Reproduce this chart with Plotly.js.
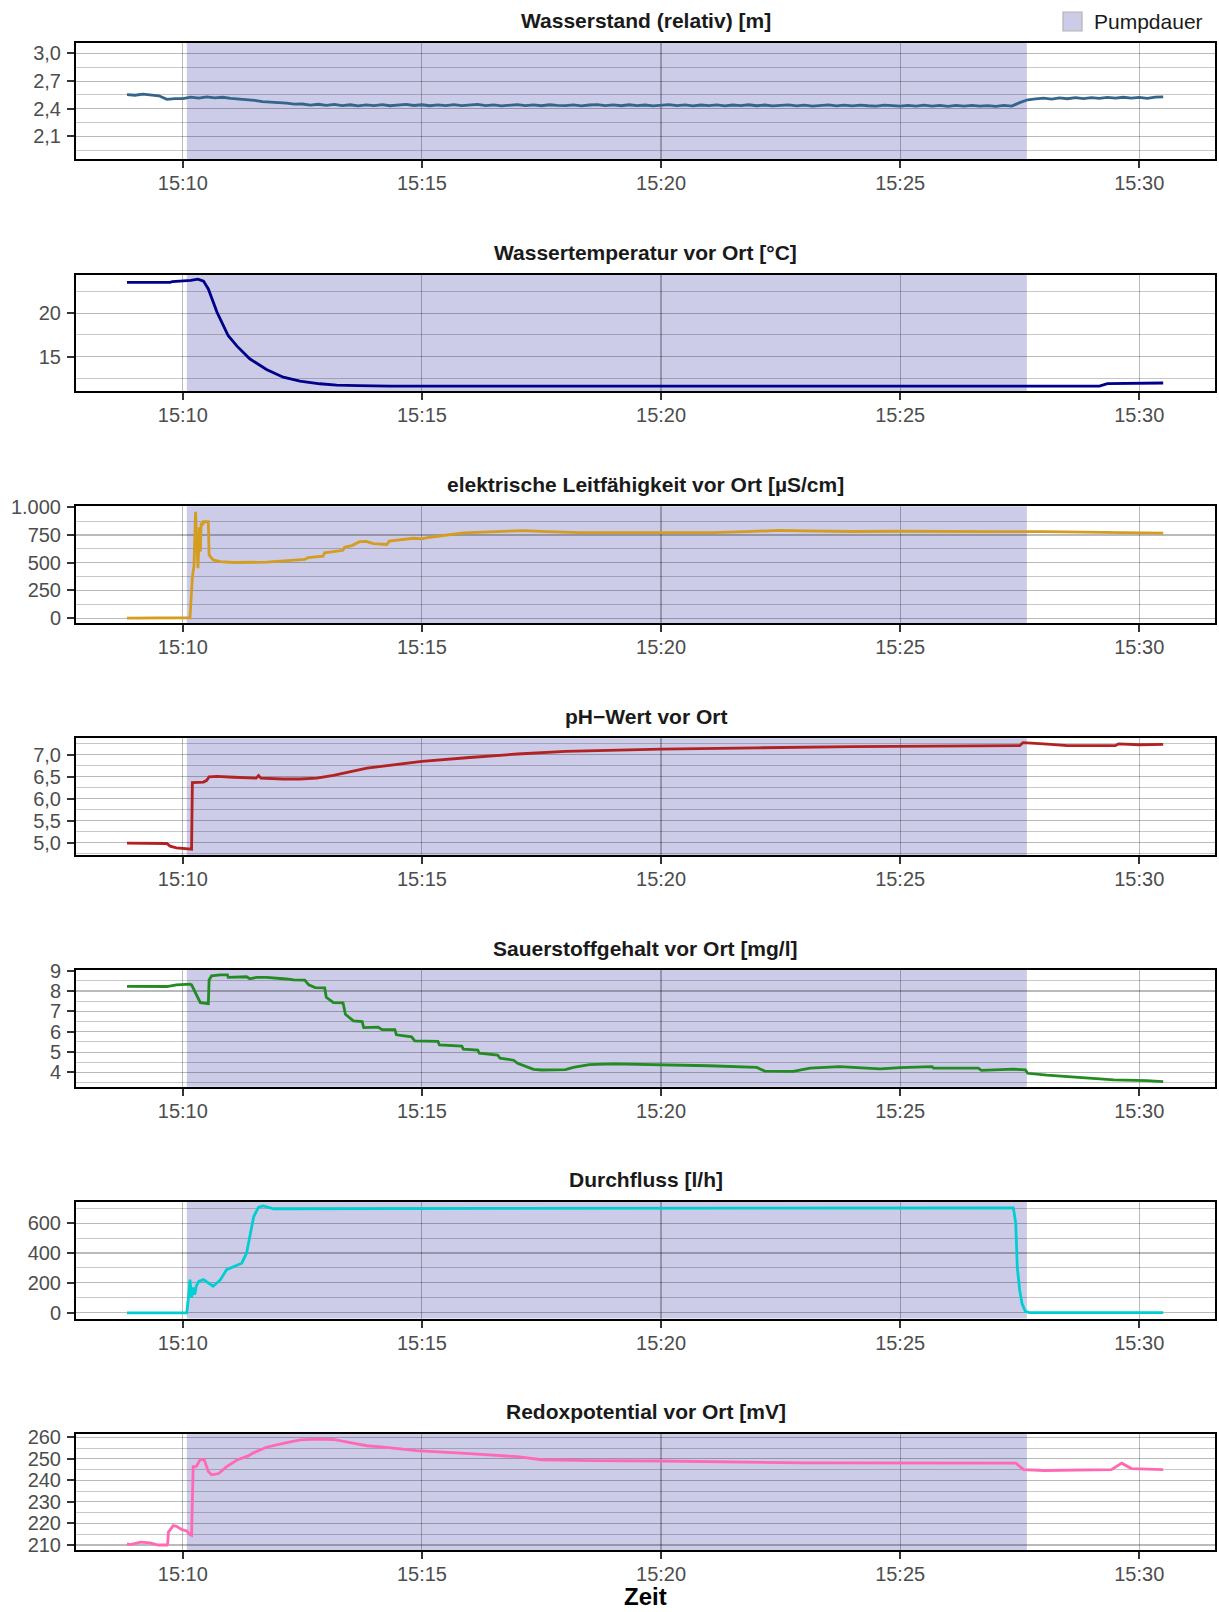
<!DOCTYPE html>
<html>
<head>
<meta charset="utf-8">
<script src="https://cdn.plot.ly/plotly-3.0.1.min.js"></script>
<style>
  html, body { margin: 0; padding: 0; background: #ffffff; }
  #chart { width: 1219px; height: 1612px; }
</style>
</head>
<body>
<div id="chart"></div>
<script>
// Messtag (nur Uhrzeit wird angezeigt)
const DAY = '2021-06-15 ';

// Pumpdauer
const pumpStart = '15:10:05';
const pumpEnd = '15:27:39';

// Wasserstand (relativ) [m], Messintervall 10 s ab 15:08:50
const levelStart = '15:08:50';
const levelStepSec = 10;
const levelV = [
  2.552,
  2.546, 2.558, 2.545, 2.540, 2.501, 2.510,
  2.509, 2.525, 2.514, 2.528, 2.517, 2.524,
  2.513, 2.508, 2.495, 2.491, 2.476, 2.473,
  2.464, 2.461, 2.450, 2.451, 2.439, 2.448,
  2.436, 2.446, 2.434, 2.443, 2.431, 2.442,
  2.434, 2.444, 2.432, 2.441, 2.446, 2.435,
  2.443, 2.432, 2.442, 2.434, 2.445, 2.433,
  2.441, 2.446, 2.433, 2.442, 2.431, 2.440,
  2.444, 2.434, 2.441, 2.432, 2.443, 2.435,
  2.433, 2.442, 2.431, 2.440, 2.445, 2.434,
  2.441, 2.432, 2.443, 2.434, 2.440, 2.431,
  2.439, 2.444, 2.433, 2.441, 2.430, 2.440,
  2.434, 2.442, 2.431, 2.440, 2.433, 2.443,
  2.432, 2.440, 2.430, 2.439, 2.442, 2.431,
  2.439, 2.429, 2.438, 2.441, 2.431, 2.438,
  2.430, 2.439, 2.432, 2.428, 2.438, 2.431,
  2.427, 2.436, 2.429, 2.438, 2.428, 2.435,
  2.426, 2.435, 2.428, 2.437, 2.427, 2.434,
  2.426, 2.436, 2.429, 2.466, 2.497, 2.507,
  2.514, 2.504, 2.517, 2.508, 2.519, 2.510,
  2.521, 2.512, 2.523, 2.514, 2.524, 2.515,
  2.522, 2.512, 2.525, 2.528
];

// Wassertemperatur vor Ort [°C]
const tempT = ['15:08:50','15:09:44','15:09:47','15:10:10','15:10:19','15:10:26','15:10:32','15:10:43',
  '15:10:57','15:11:08','15:11:24','15:11:45','15:12:06','15:12:27','15:12:52','15:13:13','15:13:40',
  '15:14:20','15:29:10','15:29:20','15:30:30'];
const tempV = [23.55, 23.55, 23.65, 23.78, 23.92, 23.7, 22.8, 20.1,
  17.4, 16.2, 14.74, 13.5, 12.62, 12.16, 11.86, 11.7, 11.64,
  11.6, 11.6, 11.88, 11.95];

// elektrische Leitfähigkeit vor Ort [µS/cm]
const condT = ['15:08:50','15:10:09','15:10:12','15:10:14','15:10:16','15:10:18','15:10:19','15:10:21',
  '15:10:22','15:10:23','15:10:25','15:10:26','15:10:32','15:10:33','15:10:38','15:10:47','15:11:03',
  '15:11:45','15:12:10','15:12:33','15:12:37','15:12:56','15:12:58','15:13:21','15:13:23','15:13:32',
  '15:13:42','15:13:50','15:13:59','15:14:16','15:14:19','15:14:33','15:14:49','15:15:00','15:15:10',
  '15:15:52','15:16:13','15:16:34','15:17:07','15:17:37','15:18:18','15:19:00','15:20:01','15:21:05',
  '15:21:47','15:22:29','15:23:00','15:24:00','15:25:00','15:26:00','15:27:00','15:28:00','15:29:00',
  '15:30:30'];
const condV = [0, 3, 370, 470, 960, 650, 450, 820,
  600, 860, 840, 870, 870, 570, 525, 510, 502,
  505, 515, 530, 545, 560, 590, 612, 640, 655,
  690, 692, 672, 665, 695, 710, 721, 715, 730,
  769, 775, 784, 790, 781, 772, 772, 775, 772,
  781, 792, 788, 782, 784, 780, 781, 780, 775,
  768];

// pH-Wert vor Ort
const phT = ['15:08:50','15:09:40','15:09:44','15:09:52','15:10:11','15:10:12','15:10:26','15:10:30',
  '15:10:33','15:10:43','15:11:04','15:11:32','15:11:35','15:11:38','15:12:06','15:12:27','15:12:48',
  '15:13:09','15:13:51','15:14:33','15:15:00','15:16:00','15:17:00','15:18:00','15:19:00','15:20:00',
  '15:22:00','15:24:00','15:27:30','15:27:34','15:28:00','15:28:30','15:29:30','15:29:34','15:30:00',
  '15:30:30'];
const phV = [4.99, 4.98, 4.92, 4.88, 4.85, 6.37, 6.38, 6.42,
  6.5, 6.51, 6.49, 6.47, 6.53, 6.47, 6.45, 6.45, 6.47,
  6.53, 6.70, 6.80, 6.85, 6.94, 7.02, 7.08, 7.11, 7.13,
  7.16, 7.19, 7.21, 7.28, 7.25, 7.21, 7.21, 7.25, 7.23,
  7.24];

// Sauerstoffgehalt vor Ort [mg/l]
const oxyT = ['15:08:50','15:09:40','15:09:52','15:10:09','15:10:11','15:10:17','15:10:22','15:10:32',
  '15:10:33','15:10:36','15:10:47','15:10:56','15:10:57','15:11:20','15:11:24','15:11:33','15:11:45',
  '15:12:10','15:12:19','15:12:33','15:12:38','15:12:46','15:12:58','15:13:00','15:13:09','15:13:21',
  '15:13:24','15:13:34','15:13:45','15:13:47','15:14:05','15:14:10','15:14:26','15:14:28','15:14:47',
  '15:14:51','15:15:20','15:15:22','15:15:50','15:15:52','15:16:10','15:16:12','15:16:35','15:16:38',
  '15:16:55','15:17:00','15:17:10','15:17:20','15:17:30','15:18:00','15:18:10','15:18:30','15:19:00',
  '15:20:00','15:21:00','15:22:00','15:22:10','15:22:46','15:23:07','15:23:44','15:24:35','15:25:00',
  '15:25:25','15:25:40','15:25:42','15:26:38','15:26:42','15:27:22','15:27:37','15:27:40','15:28:04',
  '15:28:46','15:29:28','15:30:09','15:30:30'];
const oxyV = [8.23, 8.22, 8.3, 8.34, 8.3, 7.8, 7.43, 7.38,
  8.54, 8.74, 8.79, 8.79, 8.67, 8.7, 8.6, 8.67, 8.67,
  8.59, 8.55, 8.53, 8.3, 8.17, 8.15, 7.69, 7.43, 7.42,
  6.86, 6.53, 6.5, 6.2, 6.23, 6.1, 6.1, 5.85, 5.75,
  5.55, 5.53, 5.35, 5.3, 5.15, 5.1, 4.95, 4.85, 4.7,
  4.6, 4.45, 4.3, 4.15, 4.12, 4.14, 4.25, 4.38, 4.42,
  4.38, 4.33, 4.25, 4.07, 4.05, 4.21, 4.29, 4.18, 4.24,
  4.29, 4.29, 4.21, 4.21, 4.1, 4.16, 4.13, 3.96, 3.87,
  3.74, 3.64, 3.6, 3.55];

// Durchfluss [l/h]
const flowT = ['15:08:50','15:10:05','15:10:07','15:10:09','15:10:11','15:10:13','15:10:15','15:10:17',
  '15:10:20','15:10:26','15:10:38','15:10:47','15:10:55','15:11:08','15:11:14','15:11:20','15:11:24',
  '15:11:29','15:11:35','15:11:41','15:11:54','15:15:00','15:20:00','15:27:22','15:27:25','15:27:27',
  '15:27:30','15:27:33','15:27:37','15:27:42','15:30:30'];
const flowV = [0, 0, 100, 222, 100, 170, 122, 180,
  210, 222, 178, 220, 289, 322, 332, 400, 500,
  644, 707, 715, 696, 698, 702, 702, 600, 300,
  150, 60, 10, 2, 2];

// Redoxpotential vor Ort [mV]
const redoxT = ['15:08:50','15:08:54','15:09:07','15:09:19','15:09:29','15:09:40','15:09:41','15:09:42',
  '15:09:48','15:09:52','15:09:59','15:10:05','15:10:09','15:10:11','15:10:13','15:10:17','15:10:22',
  '15:10:27','15:10:32','15:10:36','15:10:45','15:10:55','15:11:08','15:11:22','15:11:29','15:11:45',
  '15:12:06','15:12:27','15:12:48','15:13:09','15:13:30','15:13:51','15:14:12','15:14:33','15:14:53',
  '15:16:00','15:17:00','15:17:30','15:18:30','15:20:00','15:22:00','15:23:00','15:27:25','15:27:35',
  '15:28:00','15:29:25','15:29:38','15:29:50','15:30:30'];
const redoxV = [210.5, 210.2, 211.3, 211, 210, 210, 210.5, 216,
  219, 218.7, 217.1, 216.5, 214.8, 214.5, 246.4, 246.5, 249.8,
  249.5, 244.1, 242.6, 243.2, 246.4, 249.5, 251.4, 252.9, 255.4,
  257.2, 258.8, 259.2, 259, 257.5, 256.1, 255.5, 254.8, 253.8,
  252.4, 251, 249.6, 249.2, 249, 248.6, 248.1, 248, 245,
  244.6, 245, 248, 245.5, 245];

// Panel-Titel, Farben und Achsen
const panelTitles = [
  'Wasserstand (relativ) [m]',
  'Wassertemperatur vor Ort [°C]',
  'elektrische Leitfähigkeit vor Ort [µS/cm]',
  'pH\u2212Wert vor Ort',
  'Sauerstoffgehalt vor Ort [mg/l]',
  'Durchfluss [l/h]',
  'Redoxpotential vor Ort [mV]'
];
const lineColors = ['#34658A', '#00008B', '#D49D1F', '#B22222', '#228B22', '#00CED1', '#FF69B4'];
const yRanges = [[1.85, 3.116], [11.0, 24.46], [-45, 1009], [4.72, 7.38], [3.30, 9.03], [-38, 742], [207.5, 261.7]];
const yMajor = [[2.1, 0.3], [15, 5], [0, 250], [5, 0.5], [4, 1], [0, 200], [210, 10]];
const yFormats = ['.1f', 'd', ',d', '.1f', 'd', 'd', 'd'];
const xTitle = 'Zeit';
const legendName = 'Pumpdauer';

// --- Aufbau ---
const toDate = t => DAY + t;
function addSeconds(hms, s) {
  const p = hms.split(':').map(Number);
  let tot = p[0] * 3600 + p[1] * 60 + p[2] + s;
  const h = Math.floor(tot / 3600); tot -= h * 3600;
  const m = Math.floor(tot / 60); const sec = tot - m * 60;
  const z = n => String(n).padStart(2, '0');
  return z(h) + ':' + z(m) + ':' + z(sec);
}
const levelT = levelV.map((_, i) => addSeconds(levelStart, i * levelStepSec));

const seriesT = [levelT, tempT, condT, phT, oxyT, flowT, redoxT];
const seriesV = [levelV, tempV, condV, phV, oxyV, flowV, redoxV];

const W = 1219, H = 1612;
const plotLeft = 76, plotRight = 1215;
const firstTop = 42.7, panelStep = 231.83, panelHeight = 116.7;
const FONT = 'Liberation Sans, Arial, Helvetica, sans-serif';
const pumpFill = 'rgba(0,0,139,0.2)';

const traces = [];
const layout = {
  width: W, height: H,
  margin: { l: 0, r: 0, t: 0, b: 0 },
  paper_bgcolor: '#ffffff',
  plot_bgcolor: '#ffffff',
  separators: ',.',
  font: { family: FONT, size: 20, color: '#4D4D4D' },
  showlegend: false,
  shapes: [],
  annotations: []
};

const gridMajor = 'rgba(0,0,0,0.27)';
const gridMinor = 'rgba(0,0,0,0.24)';
const xRange = [toDate('15:07:46'), toDate('15:31:35')];

for (let i = 0; i < 7; i++) {
  const n = i + 1;
  const xa = n === 1 ? 'x' : 'x' + n;
  const ya = n === 1 ? 'y' : 'y' + n;
  const top = firstTop + i * panelStep;
  const bottom = top + panelHeight;

  traces.push({
    type: 'scatter', mode: 'lines',
    x: seriesT[i].map(toDate), y: seriesV[i],
    xaxis: xa, yaxis: ya,
    line: { color: lineColors[i], width: 2.8 },
    showlegend: false, hoverinfo: 'x+y'
  });

  layout['xaxis' + (n === 1 ? '' : n)] = {
    domain: [plotLeft / W, plotRight / W],
    anchor: ya,
    type: 'date',
    range: xRange,
    tick0: toDate('15:10:00'),
    dtick: 300000,
    tickformat: '%H:%M',
    ticks: 'outside', ticklen: 7, tickwidth: 2, tickcolor: '#333333',
    ticklabelstandoff: -2,
    tickfont: { family: FONT, size: 20, color: '#4D4D4D' },
    showgrid: true, gridcolor: gridMajor, gridwidth: 1.1,
    showline: true, mirror: true, linecolor: '#000000', linewidth: 2,
    zeroline: false, fixedrange: true
  };

  layout['yaxis' + (n === 1 ? '' : n)] = {
    domain: [1 - bottom / H, 1 - top / H],
    anchor: xa,
    range: yRanges[i],
    tick0: yMajor[i][0],
    dtick: yMajor[i][1],
    tickformat: yFormats[i],
    ticks: 'outside', ticklen: 7, tickwidth: 2, tickcolor: '#333333',
    ticklabelstandoff: 2,
    tickfont: { family: FONT, size: 20, color: '#4D4D4D' },
    showgrid: true, gridcolor: gridMajor, gridwidth: 1.1,
    minor: {
      tick0: yMajor[i][0], dtick: yMajor[i][1] / 2,
      showgrid: true, gridcolor: gridMinor, gridwidth: 0.9, ticks: ''
    },
    showline: true, mirror: true, linecolor: '#000000', linewidth: 2,
    zeroline: false, fixedrange: true
  };

  // Pumpdauer als halbtransparentes Band
  layout.shapes.push({
    type: 'rect', xref: xa, yref: ya + ' domain',
    x0: toDate(pumpStart), x1: toDate(pumpEnd), y0: 0, y1: 1,
    fillcolor: pumpFill,
    line: { width: 0 },
    layer: 'below'
  });

  layout.annotations.push({
    xref: 'paper', yref: 'paper',
    x: (plotLeft + plotRight) / 2 / W,
    y: 1 - (top - 22) / H,
    xanchor: 'center', yanchor: 'middle',
    text: '<b>' + panelTitles[i] + '</b>',
    showarrow: false,
    font: { family: FONT, size: 21, color: '#1A1A1A' }
  });
}

// Legende: Schlüssel + Beschriftung
layout.shapes.push({
  type: 'rect', xref: 'paper', yref: 'paper',
  x0: 1063 / W, x1: 1082 / W, y0: 1 - 31 / H, y1: 1 - 12 / H,
  fillcolor: pumpFill,
  line: { color: '#B3B3B3', width: 1.2 },
  layer: 'above'
});
layout.annotations.push({
  xref: 'paper', yref: 'paper',
  x: 1092 / W, y: 1 - 21.5 / H,
  xanchor: 'left', yanchor: 'middle',
  text: legendName,
  showarrow: false,
  font: { family: FONT, size: 21, color: '#1A1A1A' }
});

// Achsentitel unten, vollständig innerhalb der Fläche
layout.annotations.push({
  xref: 'paper', yref: 'paper',
  x: (plotLeft + plotRight) / 2 / W,
  y: 1 - 1596 / H,
  xanchor: 'center', yanchor: 'middle',
  text: '<b>' + xTitle + '</b>',
  showarrow: false,
  font: { family: FONT, size: 24, color: '#000000' }
});

Plotly.newPlot('chart', traces, layout, { staticPlot: true, displayModeBar: false });
</script>
</body>
</html>
